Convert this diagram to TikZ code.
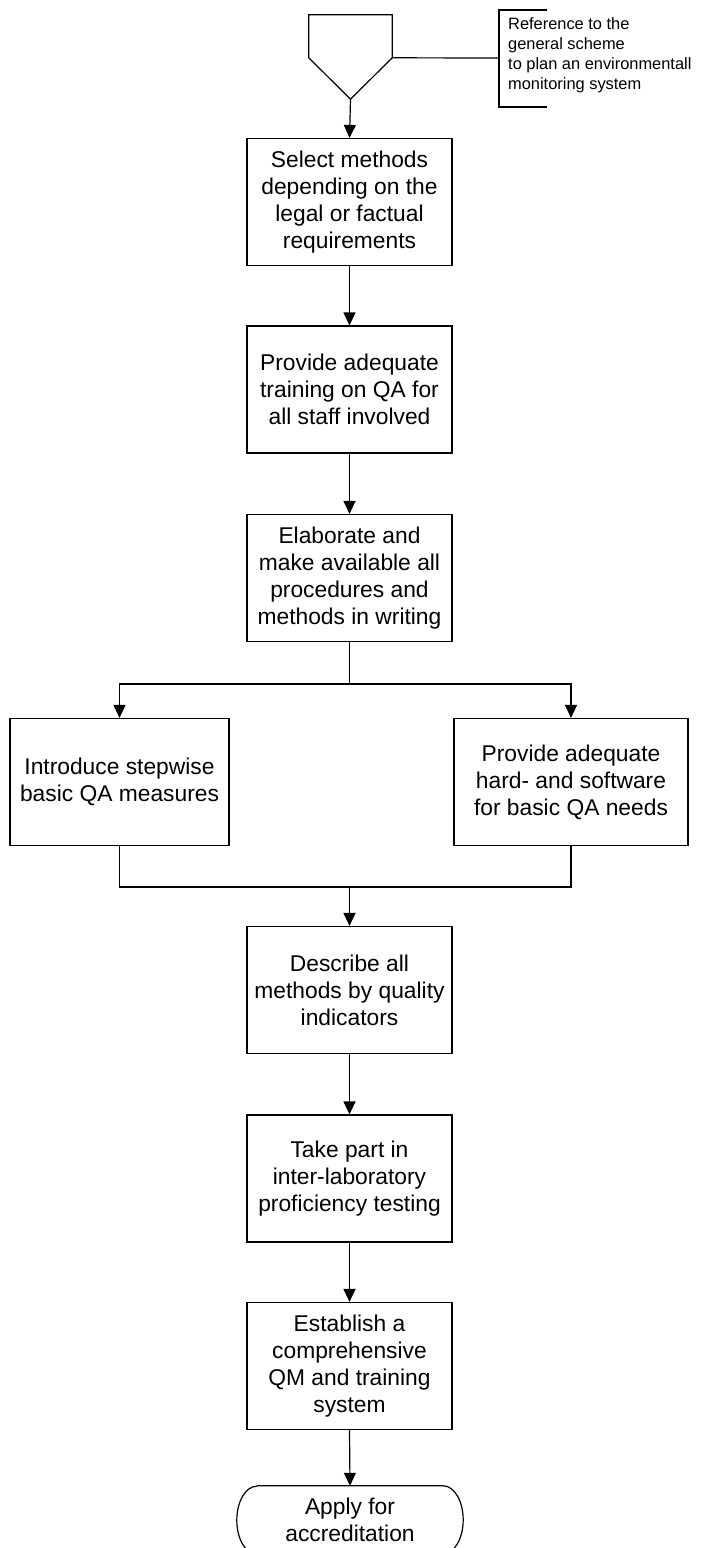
\documentclass[tikz,border=0pt]{standalone}
\usepackage{fontspec}
\setmainfont{Liberation Sans}
\usetikzlibrary{arrows.meta,calc}

\tikzset{
  stepbox/.style={draw, line width=1.2pt, minimum width=205pt, minimum height=127pt,
    inner sep=0pt, align=center, font=\fontsize{22.8}{27}\selectfont},
  flow/.style={line width=1.2pt, -{Triangle[length=13pt,width=12pt]}},
  plain/.style={line width=1.2pt},
  notetext/.style={inner sep=0pt, align=left, font=\fontsize{16.4}{20}\selectfont},
}

\begin{document}
\begin{tikzpicture}[x=1pt, y=-1pt]
  \useasboundingbox (0,0) rectangle (704,1548);

  % off-page reference symbol with its comment
  \node[minimum width=83pt, minimum height=84pt, inner sep=0pt] (pent) at (350.5,57) {};
  \draw[plain] (pent.north west) -- (pent.north east) -- ($(pent.north east)+(0,43)$)
    -- (pent.south) -- ($(pent.north west)+(0,43)$) -- cycle;
  \coordinate (shoulder) at ($(pent.north east)+(0,43)$);
  \node[notetext, anchor=west] (note) at (508,55)
    {Reference to the\\general scheme\\to plan an environmentall\\monitoring system};
  \coordinate (brk) at (499,58);
  \draw[plain] (547,10) -- (499,10) -- (499,107) -- (547,107);
  \draw[plain] (shoulder) -- (brk);

  % main sequence
  \node[stepbox] (b1) at (349.5,202)
    {Select methods\\depending on the\\legal or factual\\requirements};
  \node[stepbox] (b2) at (349.5,389.5)
    {Provide adequate\\training on QA for\\all staff involved};
  \node[stepbox] (b3) at (349.5,578)
    {Elaborate and\\make available all\\procedures and\\methods in writing};
  \node[stepbox, minimum width=219pt] (bl) at (119.5,782)
    {Introduce stepwise\\basic QA measures};
  \node[stepbox, minimum width=234pt] (br) at (571,782)
    {Provide adequate\\hard- and software\\for basic QA needs};
  \node[stepbox] (b4) at (349.5,990)
    {Describe all\\methods by quality\\indicators};
  \node[stepbox] (b5) at (349.5,1178.5)
    {Take part in\\inter-laboratory\\proficiency testing};
  \node[stepbox] (b6) at (349.5,1366)
    {Establish a\\comprehensive\\QM and training\\system};

  % terminal
  \node[minimum width=226pt, minimum height=68pt, inner sep=0pt, align=center,
        font=\fontsize{22.8}{27}\selectfont] (term) at (350,1520)
    {Apply for\\accreditation};
  \draw[plain] ($(term.north west)+(20,0)$) -- ($(term.north east)+(-20,0)$)
    arc[start angle=90, end angle=-90, x radius=20pt, y radius=34pt]
    -- ($(term.south west)+(20,0)$)
    arc[start angle=270, end angle=90, x radius=20pt, y radius=34pt];

  % connectors
  \draw[flow] (pent.south) -- (b1.north);
  \draw[flow] (b1.south) -- (b2.north);
  \draw[flow] (b2.south) -- (b3.north);
  \coordinate (split) at (349.5,684);
  \draw[plain] (b3.south) -- (split);
  \draw[flow] (split) -| (bl.north);
  \draw[flow] (split) -| (br.north);
  \coordinate (join) at (349.5,887);
  \draw[plain] (bl.south) |- (join) -| (br.south);
  \draw[flow] (join) -- (b4.north);
  \draw[flow] (b4.south) -- (b5.north);
  \draw[flow] (b5.south) -- (b6.north);
  \draw[flow] (b6.south) -- (term.north);
\end{tikzpicture}
\end{document}
